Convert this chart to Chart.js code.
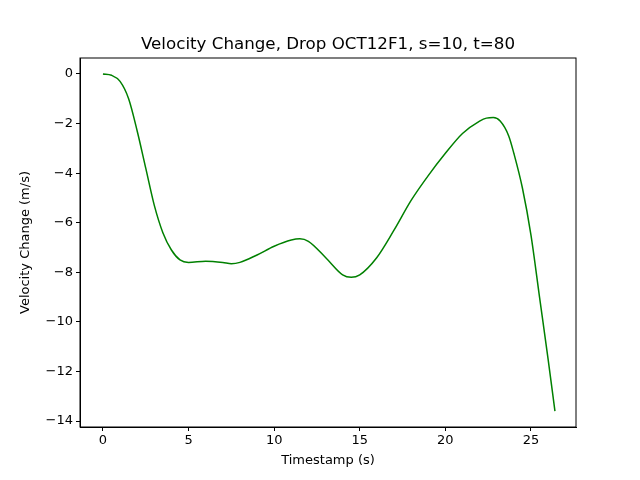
<!DOCTYPE html>
<html><head>
<script src="https://cdn.jsdelivr.net/npm/chart.js@4"></script>
<style>body{margin:0;background:#fff}#c{display:block}</style>
</head><body>
<canvas id="c" width="640" height="480"></canvas>
<script>
const timestamps = [0,0.5,1,1.5,2,2.5,3,3.5,4,4.5,5,6,7,7.5,8,9,10,11,11.5,12,13,14,14.5,15,16,17,18,19,20,21,22,22.4,22.8,23.2,23.7,24,24.5,25,25.5,26,26.4];
const velocityChange = [0,-0.05,-0.3,-1.0,-2.3,-3.8,-5.3,-6.4,-7.1,-7.5,-7.6,-7.55,-7.6,-7.65,-7.6,-7.3,-6.95,-6.7,-6.65,-6.75,-7.4,-8.1,-8.2,-8.1,-7.4,-6.3,-5.1,-4.1,-3.2,-2.4,-1.9,-1.78,-1.76,-1.9,-2.5,-3.2,-4.6,-6.5,-9.0,-11.5,-13.6];
const xTicks = [0,5,10,15,20,25];
const yTicks = [0,-2,-4,-6,-8,-10,-12,-14];
const titleText = 'Velocity Change, Drop OCT12F1, s=10, t=80';

const frame = {
  id: 'frame',
  afterDraw(chart) {
    const a = chart.chartArea, ctx = chart.ctx;
    ctx.save(); ctx.strokeStyle = '#000'; ctx.lineWidth = 1;
    ctx.strokeRect(a.left, a.top, a.right - a.left, a.bottom - a.top);
    ctx.fillStyle = '#000'; ctx.font = '16.7px "DejaVu Sans"';
    ctx.textAlign = 'center'; ctx.textBaseline = 'alphabetic';
    ctx.fillText(titleText, (a.left + a.right) / 2, 49);
    ctx.restore();
  }
};
const font = { family: 'DejaVu Sans', size: 13 };
const gridOpts = { drawOnChartArea: false, drawTicks: true, tickLength: 4, tickColor: '#000' };
new Chart(document.getElementById('c'), {
  type: 'line',
  data: { datasets: [{
    data: timestamps.map((t, i) => ({ x: t, y: velocityChange[i] })),
    borderColor: 'green', borderWidth: 1.5, pointRadius: 0,
    cubicInterpolationMode: 'monotone', fill: false
  }]},
  options: {
    responsive: false, animation: false,
    layout: { padding: { right: 64, top: 58, left: 18, bottom: 12 } },
    plugins: { legend: { display: false }, title: { display: false } },
    scales: {
      x: { type: 'linear', min: -1.34, max: 27.63,
        afterBuildTicks: s => { s.ticks = xTicks.map(v => ({ value: v })); },
        afterFit: s => { s.height = 41; },
        grid: gridOpts,
        border: { color: '#000' },
        ticks: { color: '#000', font, maxRotation: 0, padding: 2 },
        title: { display: true, text: 'Timestamp (s)', color: '#000', font, padding: 0 } },
      y: { min: -14.24, max: 0.645,
        afterBuildTicks: s => { s.ticks = yTicks.map(v => ({ value: v })); },
        afterFit: s => { s.width = 62; },
        grid: gridOpts,
        border: { color: '#000' },
        ticks: { color: '#000', font, padding: 3, callback: v => String(v).replace('-', '\u2212') },
        title: { display: true, text: 'Velocity Change (m/s)', color: '#000', font, padding: 0 } }
    }
  },
  plugins: [frame]
});
</script>
</body></html>
